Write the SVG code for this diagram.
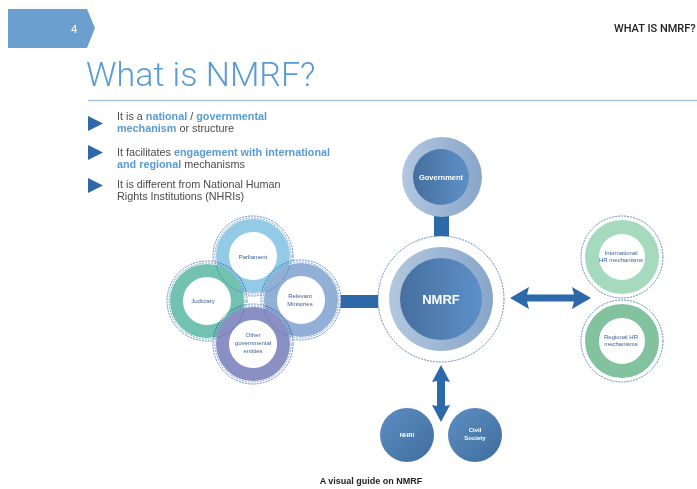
<svg xmlns="http://www.w3.org/2000/svg" width="697" height="489" viewBox="0 0 697 489">
<style>
.body{font-family:"Liberation Sans",Arial,sans-serif;font-size:10.8px;fill:#4a4a4a}
.hl{fill:#5b9bd5;font-weight:bold}
.lbl{font-family:"Liberation Sans",Arial,sans-serif;font-size:6px;fill:#3a5f94;text-anchor:middle}
.wl{font-family:"Liberation Sans",Arial,sans-serif;fill:#ffffff;font-weight:bold;text-anchor:middle}
.dash{fill:#ffffff;stroke:#3d6fb0;stroke-width:0.8;stroke-dasharray:2 1}
.arrow{fill:#2d68a8}
</style>
<defs>
<linearGradient id="gLight" x1="0" y1="0" x2="1" y2="0"><stop offset="0" stop-color="#b2c7df"/><stop offset="1" stop-color="#88a6c9"/></linearGradient>
<linearGradient id="gDark" x1="0" y1="0" x2="1" y2="0"><stop offset="0" stop-color="#456f9f"/><stop offset="1" stop-color="#5d90c8"/></linearGradient>
<linearGradient id="gBall" x1="0" y1="0" x2="1" y2="1"><stop offset="0" stop-color="#5e8fc2"/><stop offset="1" stop-color="#3f6c9f"/></linearGradient>
</defs>

<g id="header">
<polygon points="8,9 87,9 95,28 87,48 8,48" fill="#6a9fcf"/>
<text x="71" y="33" font-family="Roboto,'Liberation Sans',sans-serif" font-size="11" fill="#ffffff">4</text>
<text x="614" y="32" font-family="Roboto,'Liberation Sans',sans-serif" font-size="11" font-weight="500" fill="#222">WHAT IS NMRF?</text>
<text x="86" y="86" font-family="Roboto,'Liberation Sans',sans-serif" font-weight="300" font-size="34" fill="#5b9bd5">What is NMRF?</text>
<line x1="88" y1="100.5" x2="697" y2="100.5" stroke="#a9c9e6" stroke-width="1.5"/>
</g>

<g id="bullets">
<polygon points="88,116 103,123.5 88,131" fill="#2d68a8"/>
<polygon points="88,145 103,152.5 88,160" fill="#2d68a8"/>
<polygon points="88,178 103,185.5 88,193" fill="#2d68a8"/>
<text class="body" x="117" y="120">It is a <tspan class="hl">national</tspan> / <tspan class="hl">governmental</tspan></text>
<text class="body" x="117" y="132"><tspan class="hl">mechanism</tspan> or structure</text>
<text class="body" x="117" y="156">It facilitates <tspan class="hl">engagement with international</tspan></text>
<text class="body" x="117" y="168"><tspan class="hl">and regional</tspan> mechanisms</text>
<text class="body" x="117" y="188">It is different from National Human</text>
<text class="body" x="117" y="200">Rights Institutions (NHRIs)</text>
</g>

<g id="connectors">
<rect x="434" y="212" width="15" height="26" fill="#2d68a8"/>
<rect x="333" y="295" width="45" height="13" fill="#2d68a8"/>
<polygon class="arrow" points="510,298 529,287 527,294.5 574,294.5 572,287 591,298 572,309 574,301.5 527,301.5 529,309"/>
<polygon class="arrow" points="441,365 450,382 445,381 445,406 450,405 441,422 432,405 437,406 437,381 432,382"/>
</g>

<g id="cluster">
<circle class="dash" cx="253" cy="256" r="40"/>
<circle class="dash" cx="207" cy="301" r="40"/>
<circle class="dash" cx="301" cy="300" r="40"/>
<circle class="dash" cx="253" cy="344" r="40"/>
<g style="mix-blend-mode:multiply">
<circle cx="253" cy="256" r="30.5" fill="none" stroke="#93cbe6" stroke-width="13"/>
<circle cx="207" cy="301" r="30.5" fill="none" stroke="#72c2b1" stroke-width="13"/>
<circle cx="301" cy="300" r="30.5" fill="none" stroke="#92afd6" stroke-width="13"/>
<circle cx="253" cy="344" r="30.5" fill="none" stroke="#8a90c3" stroke-width="13"/>
</g>
<circle cx="253" cy="256" r="38" fill="none" stroke="#3d6fb0" stroke-width="0.6" stroke-dasharray="2 1"/>
<circle cx="207" cy="301" r="38" fill="none" stroke="#3d6fb0" stroke-width="0.6" stroke-dasharray="2 1"/>
<circle cx="301" cy="300" r="38" fill="none" stroke="#3d6fb0" stroke-width="0.6" stroke-dasharray="2 1"/>
<circle cx="253" cy="344" r="38" fill="none" stroke="#3d6fb0" stroke-width="0.6" stroke-dasharray="2 1"/>
<g id="parliament"><text class="lbl" x="253" y="259">Parliament</text></g>
<g id="judiciary"><text class="lbl" x="203" y="303">Judiciary</text></g>
<g id="ministries"><text class="lbl" x="300" y="298">Relevant</text><text class="lbl" x="300" y="306">Ministries</text></g>
<g id="other"><text class="lbl" x="253" y="337">Other</text><text class="lbl" x="253" y="345">governmental</text><text class="lbl" x="253" y="353">entities</text></g>
</g>

<g id="government">
<circle cx="442" cy="177" r="40" fill="url(#gLight)"/>
<circle cx="441" cy="177" r="28" fill="url(#gDark)"/>
<text class="wl" x="441" y="180" font-size="7.5">Government</text>
</g>

<g id="nmrf">
<circle class="dash" cx="441" cy="299" r="63"/>
<circle cx="441" cy="299" r="52" fill="url(#gLight)"/>
<circle cx="441" cy="299" r="41" fill="url(#gDark)"/>
<text class="wl" x="441" y="304" font-size="13">NMRF</text>
</g>

<g id="international">
<circle class="dash" cx="622" cy="257" r="41"/>
<circle cx="622" cy="257" r="30" fill="none" stroke="#a6dabe" stroke-width="14"/>
<text class="lbl" x="621" y="255">International</text>
<text class="lbl" x="621" y="262">HR mechanisms</text>
</g>

<g id="regional">
<circle class="dash" cx="622" cy="341" r="41"/>
<circle cx="622" cy="341" r="30" fill="none" stroke="#83c29e" stroke-width="14"/>
<text class="lbl" x="621" y="339">Regional HR</text>
<text class="lbl" x="621" y="346">mechanisms</text>
</g>

<g id="nhri">
<circle cx="407" cy="435" r="27" fill="url(#gBall)"/>
<text class="wl" x="407" y="437" font-size="6" font-weight="normal">NHRI</text>
</g>
<g id="civil">
<circle cx="475" cy="435" r="27" fill="url(#gBall)"/>
<text class="wl" x="475" y="432" font-size="6" font-weight="normal">Civil</text>
<text class="wl" x="475" y="440" font-size="6" font-weight="normal">Society</text>
</g>

<text x="371" y="484" font-family="'Liberation Sans',Arial,sans-serif" font-size="9" font-weight="bold" fill="#222" text-anchor="middle">A visual guide on NMRF</text>
</svg>
